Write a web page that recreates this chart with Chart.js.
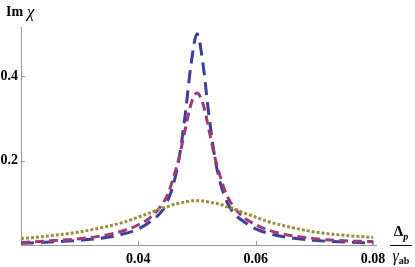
<!DOCTYPE html>
<html>
<head>
<meta charset="utf-8">
<script src="https://cdn.jsdelivr.net/npm/chart.js@4.4.0/dist/chart.umd.min.js"></script>
<style>
  html, body { margin: 0; padding: 0; background: #fff; }
  #wrap { width: 415px; height: 267px; }
</style>
</head>
<body>
<div id="wrap"><canvas id="c" width="415" height="267"></canvas></div>
<script>
// probe detuning Delta_p / gamma_ab
const detuning = [0.02, 0.025, 0.03, 0.035, 0.038, 0.04, 0.042, 0.044, 0.045, 0.046, 0.047, 0.048, 0.049, 0.05,
                  0.051, 0.052, 0.053, 0.054, 0.055, 0.056, 0.058, 0.06, 0.062, 0.065, 0.07, 0.075, 0.08];
// Im chi
const imChiBlue   = [0.004, 0.007, 0.011, 0.019, 0.028, 0.038, 0.055, 0.08, 0.105, 0.145, 0.21, 0.31, 0.43, 0.50,
                     0.43, 0.31, 0.21, 0.145, 0.105, 0.08, 0.055, 0.038, 0.028, 0.019, 0.011, 0.007, 0.005];
const imChiPurple = [0.006, 0.010, 0.015, 0.025, 0.036, 0.048, 0.065, 0.095, 0.12, 0.16, 0.21, 0.275, 0.335, 0.36,
                     0.335, 0.275, 0.21, 0.16, 0.12, 0.095, 0.065, 0.048, 0.036, 0.025, 0.015, 0.010, 0.008];
const imChiOlive  = [0.015, 0.022, 0.031, 0.045, 0.056, 0.066, 0.076, 0.087, 0.091, 0.096, 0.099, 0.102, 0.104, 0.105,
                     0.104, 0.102, 0.099, 0.096, 0.091, 0.087, 0.076, 0.066, 0.056, 0.045, 0.031, 0.023, 0.018];
const xTicks = [0.04, 0.06, 0.08];
const yTicks = [0.2, 0.4];

const serif = '"Liberation Serif", "DejaVu Serif", serif';
const axisGrey = '#9a9a9a';

function toPoints(ys) {
    return detuning.map((x, i) => ({x: x, y: ys[i]}));
}

const innerTicks = {
    id: 'innerTicks',
    afterDraw(chart) {
        const {ctx, chartArea: {left, bottom}, scales: {x, y}} = chart;
        ctx.save();
        ctx.strokeStyle = axisGrey;
        ctx.lineWidth = 1;
        xTicks.forEach(v => {
            const px = Math.round(x.getPixelForValue(v)) + 0.5;
            ctx.beginPath();
            ctx.moveTo(px, bottom);
            ctx.lineTo(px, bottom - 4);
            ctx.stroke();
        });
        yTicks.forEach(v => {
            const py = Math.round(y.getPixelForValue(v)) + 0.5;
            ctx.beginPath();
            ctx.moveTo(left, py);
            ctx.lineTo(left + 4, py);
            ctx.stroke();
        });

        // axis labels
        ctx.fillStyle = '#000';
        ctx.textBaseline = 'middle';
        ctx.textAlign = 'left';
        ctx.font = 'bold 14px ' + serif;
        ctx.fillText('Im', 6, 12);
        ctx.font = 'italic 17px ' + serif;
        ctx.fillText('\u03C7', 27, 13);

        // Delta_p / gamma_ab
        const cx = 401;
        ctx.font = 'bold 15px ' + serif;
        const wD = ctx.measureText('\u0394').width;
        ctx.font = 'italic bold 10px ' + serif;
        const wp = ctx.measureText('p').width;
        let sx = cx - (wD + wp) / 2;
        ctx.font = 'bold 15px ' + serif;
        ctx.fillText('\u0394', sx, 232);
        ctx.font = 'italic bold 10px ' + serif;
        ctx.fillText('p', sx + wD, 237);

        ctx.strokeStyle = '#000';
        ctx.beginPath();
        ctx.moveTo(390, 245.5);
        ctx.lineTo(412, 245.5);
        ctx.stroke();

        ctx.font = 'italic 16px ' + serif;
        const wg = ctx.measureText('\u03B3').width;
        ctx.font = 'bold 10px ' + serif;
        const wab = ctx.measureText('ab').width;
        sx = cx - (wg + wab) / 2;
        ctx.font = 'italic 16px ' + serif;
        ctx.fillText('\u03B3', sx, 257);
        ctx.font = 'bold 10px ' + serif;
        ctx.fillText('ab', sx + wg, 261);
        ctx.restore();
    }
};

const lineStyle = {
    fill: false,
    pointRadius: 0,
    borderWidth: 3,
    borderCapStyle: 'butt',
    cubicInterpolationMode: 'monotone'
};

new Chart(document.getElementById('c'), {
    type: 'line',
    data: {
        datasets: [
            Object.assign({label: 'blue', data: toPoints(imChiBlue), borderColor: '#3d3d9e', borderDash: [13, 7], order: 3}, lineStyle),
            Object.assign({label: 'purple', data: toPoints(imChiPurple), borderColor: '#9b3d72', borderDash: [9, 5], order: 2}, lineStyle),
            Object.assign({label: 'olive', data: toPoints(imChiOlive), borderColor: '#9a8f3d', borderDash: [3, 2], borderWidth: 3.2, order: 1}, lineStyle)
        ]
    },
    options: {
        responsive: false,
        animation: false,
        devicePixelRatio: 1,
        layout: {padding: {top: 27, right: 39, left: 0, bottom: 0}},
        plugins: {legend: {display: false}, tooltip: {enabled: false}},
        scales: {
            x: {
                type: 'linear',
                min: 0.02,
                max: 0.0805,
                afterBuildTicks: s => { s.ticks = xTicks.map(v => ({value: v})); },
                afterFit: s => { s.height = 22; },
                grid: {display: false, drawTicks: false},
                border: {display: true, color: axisGrey, width: 1},
                ticks: {
                    color: '#000',
                    font: {family: serif, size: 14, weight: 'bold'},
                    padding: 6,
                    maxRotation: 0,
                    autoSkip: false,
                    callback: v => v.toFixed(2)
                }
            },
            y: {
                type: 'linear',
                min: 0,
                max: 0.516,
                afterBuildTicks: s => { s.ticks = yTicks.map(v => ({value: v})); },
                afterFit: s => { s.width = 21; },
                grid: {display: false, drawTicks: false},
                border: {display: true, color: axisGrey, width: 1},
                ticks: {
                    color: '#000',
                    font: {family: serif, size: 14, weight: 'bold'},
                    padding: 3,
                    callback: v => v.toFixed(1)
                }
            }
        }
    },
    plugins: [innerTicks]
});
</script>
</body>
</html>
